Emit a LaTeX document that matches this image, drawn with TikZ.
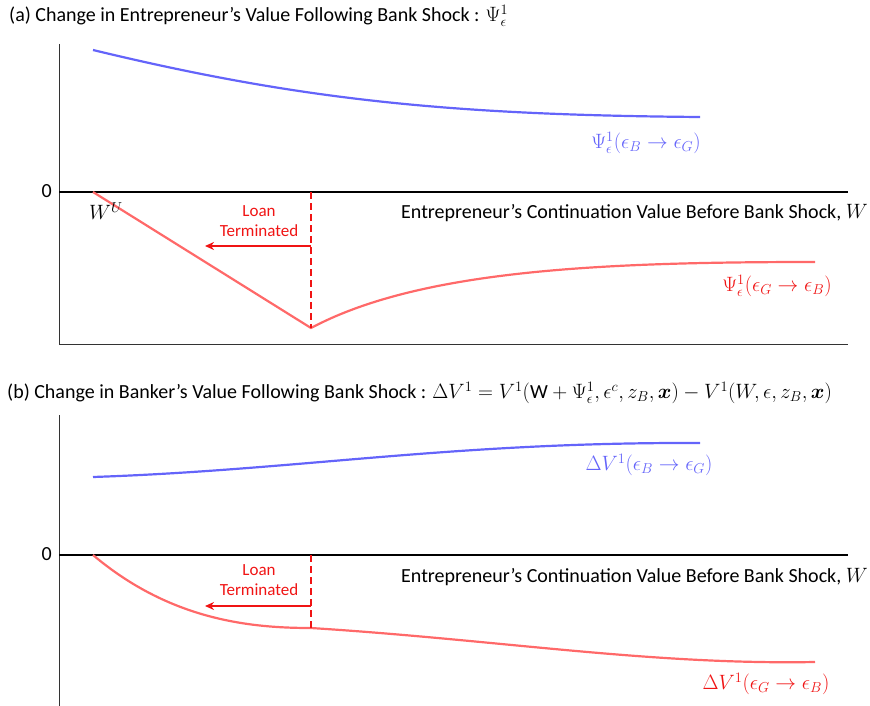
\documentclass[tikz,border=0pt]{standalone}
\usepackage{fontspec}
\setmainfont{Carlito}
\usepackage{amsmath,bm}
\usetikzlibrary{arrows.meta}
\definecolor{cblue}{RGB}{100,100,250}
\definecolor{cred}{RGB}{255,105,105}
\definecolor{lred}{RGB}{240,20,20}
\begin{document}
\begin{tikzpicture}[x=1pt,y=-1pt,
  axis/.style={line width=1.4pt,black},
  frame/.style={line width=1pt,black!80},
  bcurve/.style={line width=2.2pt,cblue},
  rcurve/.style={line width=2.2pt,cred},
  dashline/.style={line width=1.5pt,lred,dash pattern=on 7pt off 4pt},
  arr/.style={line width=1.5pt,lred,-{Stealth[length=9pt,width=8pt]}},
  txt/.style={font=\fontsize{20}{22}\selectfont,inner sep=0pt},
  rtxt/.style={font=\fontsize{17}{20}\selectfont,text=lred,inner sep=0pt,align=center},
  lbl/.style={font=\fontsize{19.5}{22}\selectfont,inner sep=0pt}]
\useasboundingbox (0,0) rectangle (870,706);
% ---------- panel (a)
\node[txt,anchor=west] (ta) at (9,16) {(a) Change in Entrepreneur’s Value Following Bank Shock : $\Psi^{1}_{\epsilon}$};
\coordinate (a0) at (59,44);
\coordinate (a1) at (59,344);
\coordinate (a2) at (848,344);
\draw[frame] (a0) -- (a1) -- (a2);
\coordinate (az0) at (59,192);
\coordinate (az1) at (848,192);
\draw[axis] (az0) -- (az1);
\node[txt,anchor=east] (za) at (52,191) {0};
\node[txt,anchor=west] (xa) at (401,213) {Entrepreneur’s Continuation Value Before Bank Shock, $W$};
\draw[bcurve] (93,50) .. controls (300,100) and (450,115) .. (700,117);
\coordinate (ra0) at (93,192);
\coordinate (ra1) at (311,328);
\draw[rcurve] (ra0) -- (ra1) .. controls (420,270) and (600,262) .. (815,262);
\coordinate (da1) at (311,192);
\draw[dashline] (da1) -- (ra1);
\coordinate (aa0) at (311,246);
\coordinate (aa1) at (205,246);
\draw[arr] (aa0) -- (aa1);
\node[rtxt] (lta) at (259,221) {Loan\\Terminated};
\node[lbl] (wu) at (106,211) {$W^{U}$};
\node[lbl,text=cblue] (lba) at (646,143) {$\Psi^{1}_{\epsilon}(\epsilon_B \rightarrow \epsilon_G)$};
\node[lbl,text=lred] (lra) at (777,286) {$\Psi^{1}_{\epsilon}(\epsilon_G \rightarrow \epsilon_B)$};
% ---------- panel (b)
\node[txt,anchor=west] (tb) at (7,393) {(b) Change in Banker’s Value Following Bank Shock : $\Delta V^{1} = V^{1}(\mathrm{W} + \Psi^{1}_{\epsilon}, \epsilon^{c}, z_B, \bm{x}) - V^{1}(W, \epsilon, z_B, \bm{x})$};
\coordinate (b0) at (59,415);
\coordinate (b1) at (59,706);
\draw[frame] (b0) -- (b1);
\coordinate (bz0) at (59,555);
\coordinate (bz1) at (848,555);
\draw[axis] (bz0) -- (bz1);
\node[txt,anchor=east] (zb) at (52,554) {0};
\node[txt,anchor=west] (xb) at (401,577) {Entrepreneur’s Continuation Value Before Bank Shock, $W$};
\draw[bcurve] (93,477) .. controls (300,470) and (450,442) .. (700,443);
\coordinate (rb0) at (93,555);
\coordinate (rb1) at (311,628);
\draw[rcurve] (rb0) .. controls (170,620) and (250,628) .. (rb1) .. controls (500,640) and (650,665) .. (815,662);
\coordinate (db1) at (311,555);
\draw[dashline] (db1) -- (rb1);
\coordinate (ab0) at (311,606);
\coordinate (ab1) at (205,606);
\draw[arr] (ab0) -- (ab1);
\node[rtxt] (ltb) at (259,580) {Loan\\Terminated};
\node[lbl,text=cblue] (lbb) at (649,465) {$\Delta V^{1}(\epsilon_B \rightarrow \epsilon_G)$};
\node[lbl,text=lred] (lrb) at (766,684) {$\Delta V^{1}(\epsilon_G \rightarrow \epsilon_B)$};
\end{tikzpicture}
\end{document}
